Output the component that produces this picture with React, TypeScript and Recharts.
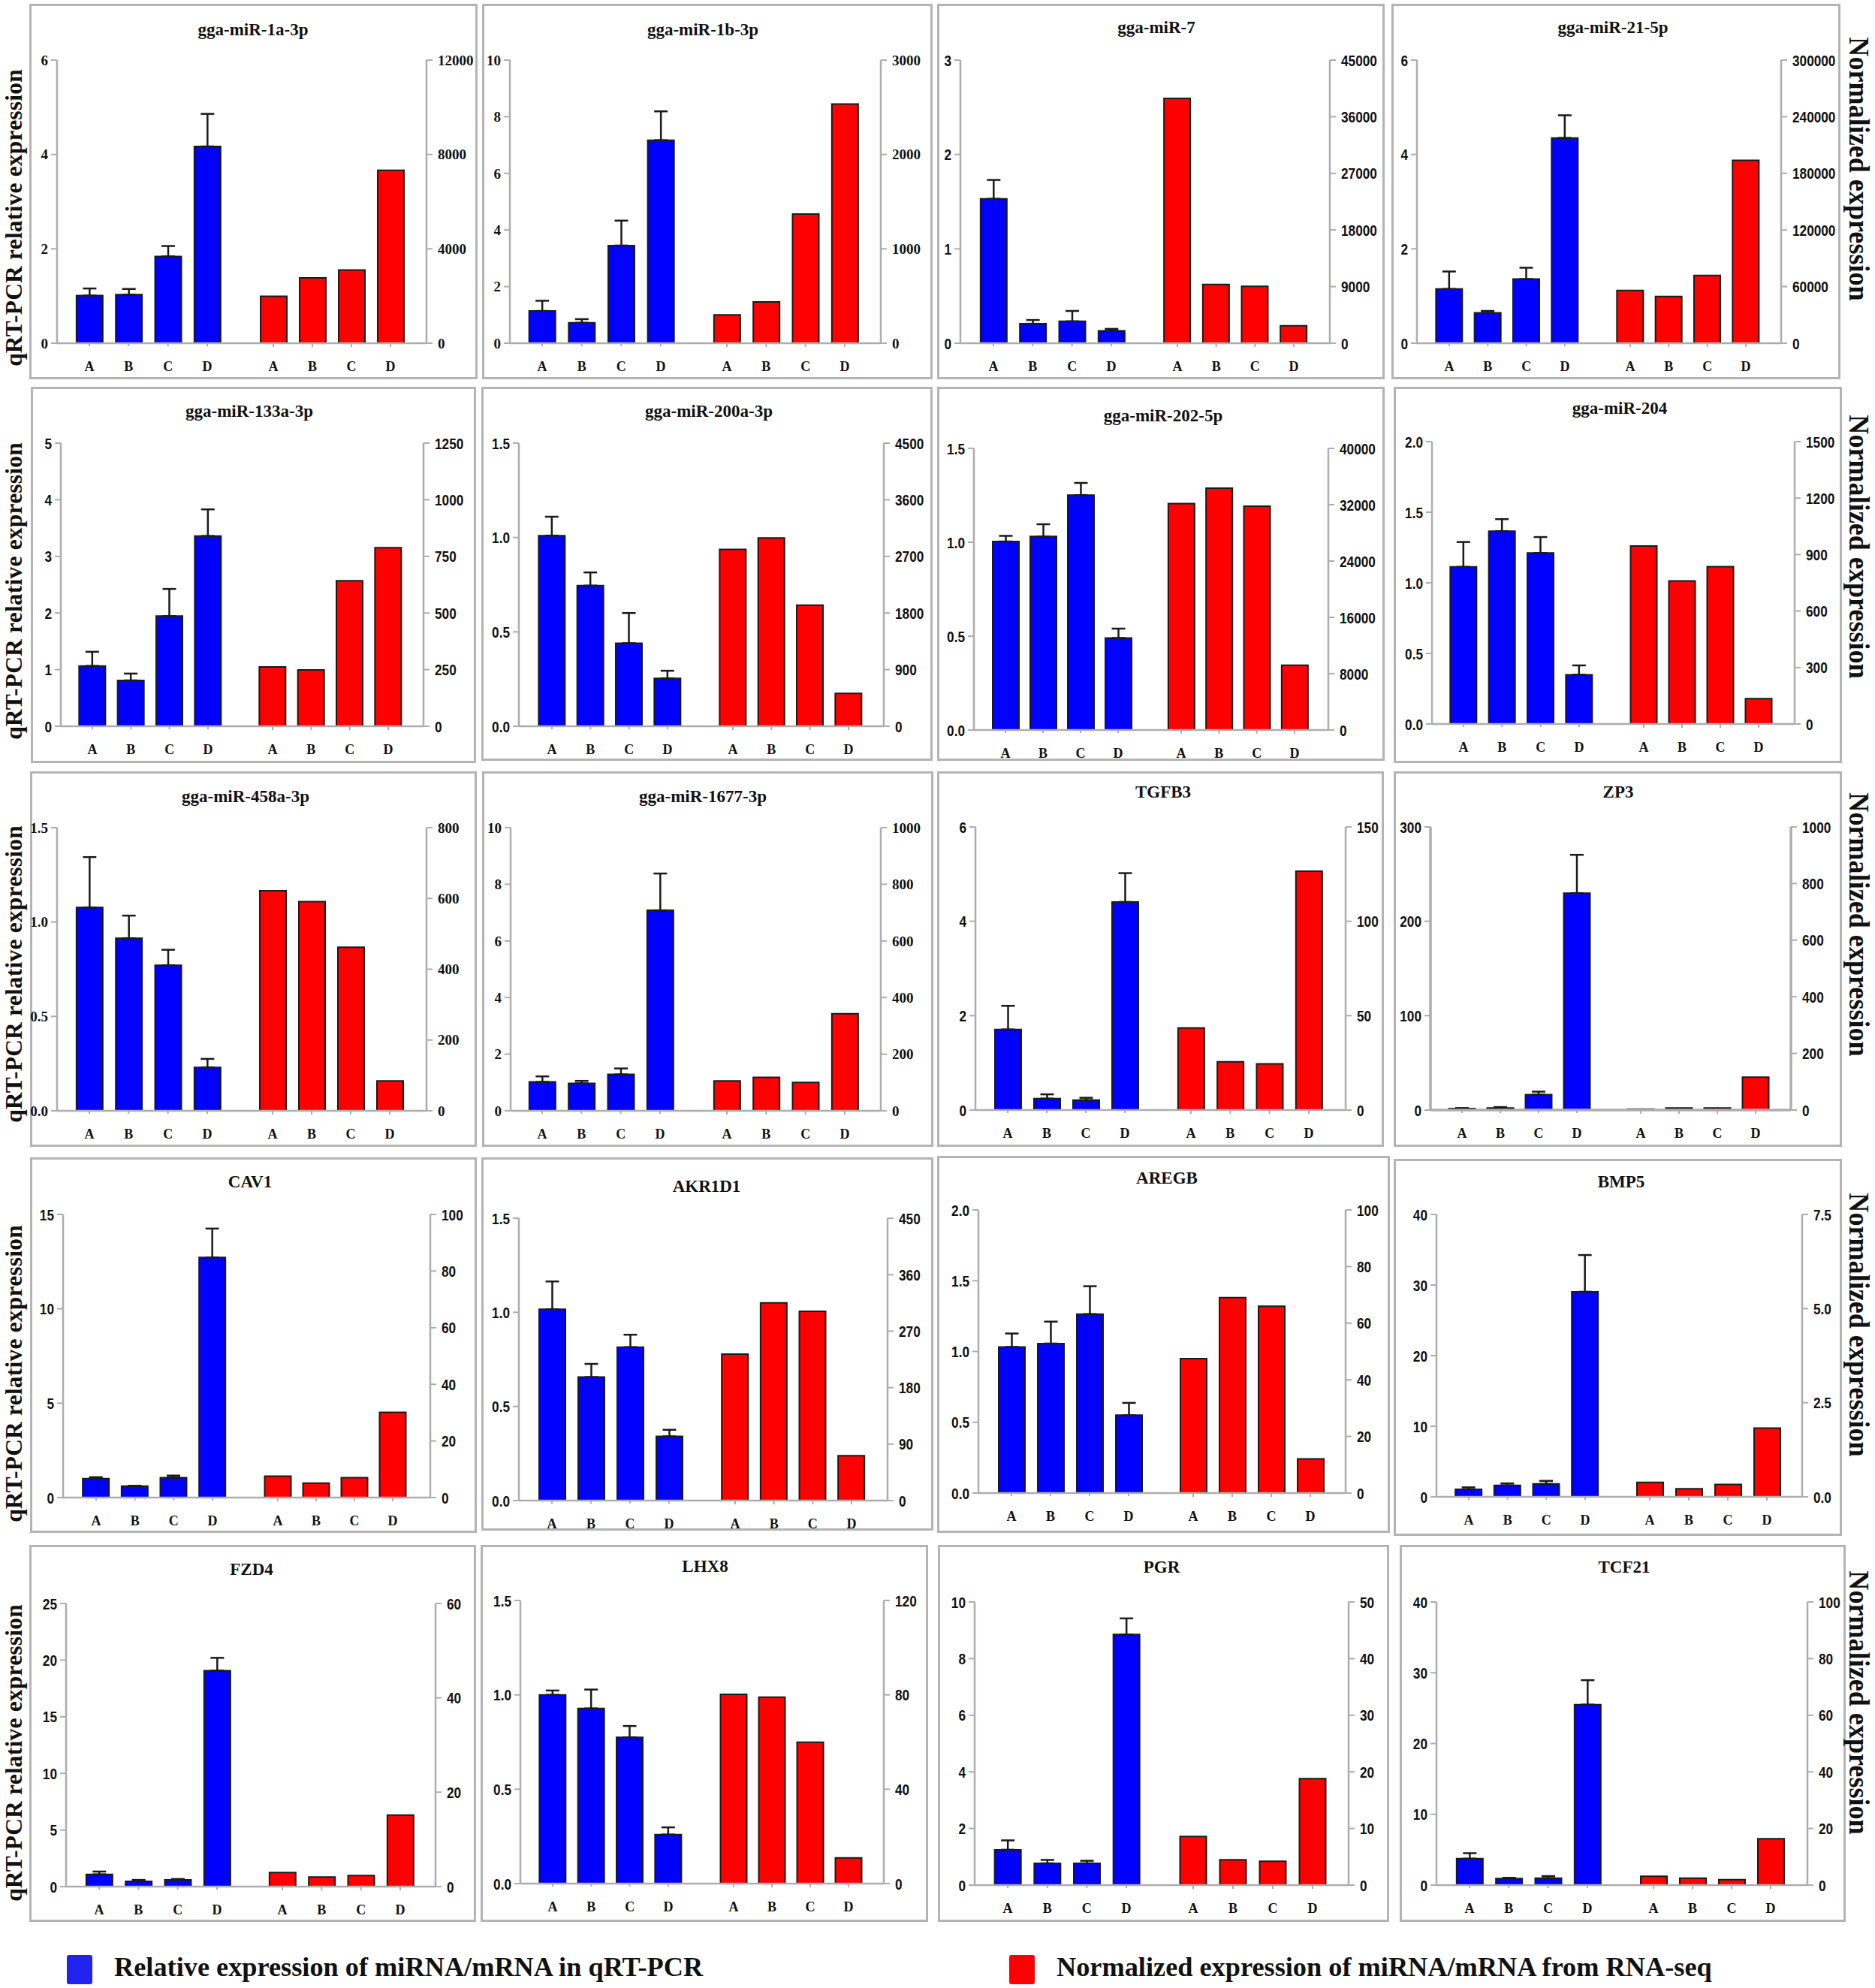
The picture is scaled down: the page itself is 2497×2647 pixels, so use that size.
import React from 'react';
import { BarChart, Bar, XAxis, YAxis, ErrorBar } from 'recharts';

const SERIF = '"Liberation Serif", serif';
const SANS = '"Liberation Sans", sans-serif';
const AXIS_GREY = '#adadad';

const groups = ['A', 'B', 'C', 'D'];

const titles = [
  'gga-miR-1a-3p', 'gga-miR-1b-3p', 'gga-miR-7', 'gga-miR-21-5p',
  'gga-miR-133a-3p', 'gga-miR-200a-3p', 'gga-miR-202-5p', 'gga-miR-204',
  'gga-miR-458a-3p', 'gga-miR-1677-3p', 'TGFB3', 'ZP3',
  'CAV1', 'AKR1D1', 'AREGB', 'BMP5',
  'FZD4', 'LHX8', 'PGR', 'TCF21',
];

// these four panels have serif tick numbers, the others a narrow sans
const serifTickPanels = ['gga-miR-1a-3p', 'gga-miR-1b-3p', 'gga-miR-458a-3p', 'gga-miR-1677-3p'];

const leftTicks = [
  [0, 2, 4, 6], [0, 2, 4, 6, 8, 10], [0, 1, 2, 3], [0, 2, 4, 6],
  [0, 1, 2, 3, 4, 5], [0, 0.5, 1, 1.5], [0, 0.5, 1, 1.5], [0, 0.5, 1, 1.5, 2],
  [0, 0.5, 1, 1.5], [0, 2, 4, 6, 8, 10], [0, 2, 4, 6], [0, 100, 200, 300],
  [0, 5, 10, 15], [0, 0.5, 1, 1.5], [0, 0.5, 1, 1.5, 2], [0, 10, 20, 30, 40],
  [0, 5, 10, 15, 20, 25], [0, 0.5, 1, 1.5], [0, 2, 4, 6, 8, 10], [0, 10, 20, 30, 40],
];

const rightTicks = [
  [0, 4000, 8000, 12000], [0, 1000, 2000, 3000], [0, 9000, 18000, 27000, 36000, 45000], [0, 60000, 120000, 180000, 240000, 300000],
  [0, 250, 500, 750, 1000, 1250], [0, 900, 1800, 2700, 3600, 4500], [0, 8000, 16000, 24000, 32000, 40000], [0, 300, 600, 900, 1200, 1500],
  [0, 200, 400, 600, 800], [0, 200, 400, 600, 800, 1000], [0, 50, 100, 150], [0, 200, 400, 600, 800, 1000],
  [0, 20, 40, 60, 80, 100], [0, 90, 180, 270, 360, 450], [0, 20, 40, 60, 80, 100], [0, 2.5, 5, 7.5],
  [0, 20, 40, 60], [0, 40, 80, 120], [0, 10, 20, 30, 40, 50], [0, 20, 40, 60, 80, 100],
];

const qpcrValues = [
  [1.01, 1.03, 1.84, 4.17], [1.14, 0.72, 3.45, 7.17], [1.53, 0.206, 0.232, 0.132], [1.15, 0.644, 1.36, 4.35],
  [1.065, 0.81, 1.945, 3.36], [1.01, 0.745, 0.44, 0.254], [1.004, 1.031, 1.251, 0.49], [1.113, 1.366, 1.211, 0.349],
  [1.077, 0.914, 0.771, 0.23], [1.02, 0.97, 1.285, 7.08], [1.708, 0.243, 0.21, 4.41], [1.6, 2.1, 16.3, 229.8],
  [1.0, 0.607, 1.056, 12.72], [1.016, 0.656, 0.815, 0.341], [1.032, 1.056, 1.264, 0.55], [1.06, 1.62, 1.83, 29.05],
  [1.08, 0.46, 0.59, 19.07], [1.0, 0.928, 0.775, 0.26], [1.25, 0.77, 0.77, 8.85], [3.74, 0.94, 0.98, 25.5],
];

const qpcrErrors = [
  [0.15, 0.12, 0.22, 0.69], [0.36, 0.13, 0.88, 1.02], [0.2, 0.04, 0.11, 0.02], [0.37, 0.04, 0.24, 0.48],
  [0.25, 0.12, 0.48, 0.47], [0.1, 0.07, 0.16, 0.04], [0.03, 0.065, 0.065, 0.05], [0.176, 0.085, 0.113, 0.066],
  [0.267, 0.12, 0.082, 0.045], [0.195, 0.086, 0.21, 1.3], [0.5, 0.09, 0.05, 0.61], [0.5, 1, 3.2, 40.6],
  [0.08, 0.02, 0.11, 1.53], [0.148, 0.07, 0.066, 0.035], [0.095, 0.155, 0.197, 0.087], [0.28, 0.28, 0.43, 5.2],
  [0.25, 0.13, 0.08, 1.13], [0.023, 0.1, 0.06, 0.038], [0.33, 0.12, 0.09, 0.57], [0.77, 0.09, 0.29, 3.45],
];

const rnaValues = [
  [1986, 2768, 3106, 7331], [301, 438, 1368, 2535], [38900, 9350, 9030, 2770], [56000, 49600, 71800, 193800],
  [262, 249, 642, 788], [2812, 2994, 1925, 523], [32150, 34350, 31800, 9190], [945, 760, 836, 135],
  [622, 591, 462, 84.5], [105.6, 118, 100, 343], [43.5, 25.6, 24.5, 126.5], [3.5, 7, 7, 116],
  [7.57, 5.1, 7.04, 30.1], [233.4, 315, 301.6, 71.4], [47.5, 69, 66, 12.1], [0.384, 0.212, 0.331, 1.826],
  [3.0, 2.03, 2.34, 15.15], [80.2, 79, 59.9, 10.9], [8.6, 4.46, 4.2, 18.8], [3.1, 2.46, 1.95, 16.4],
];

// panel geometry, in page pixels: frame box [x0, y0, x1, y1]
const frames = [
  [39, 5, 636, 505], [642, 5, 1242, 505], [1248, 5, 1844, 505], [1853, 5, 2451, 505],
  [41, 515, 634, 1016], [641, 515, 1242, 1013], [1248, 515, 1844, 1013], [1856, 515, 2453, 1016],
  [40, 1027, 635, 1527], [642, 1027, 1243, 1527], [1248, 1027, 1843, 1527], [1856, 1027, 2453, 1527],
  [40, 1541, 635, 2041], [641, 1541, 1243, 2038], [1248, 1539, 1851, 2041], [1856, 1543, 2453, 2045],
  [39, 2057, 634, 2559], [640, 2057, 1236, 2559], [1249, 2057, 1850, 2559], [1864, 2057, 2458, 2559],
];

// plot box [axis left, axis right, top, baseline]
const plots = [
  [76, 568, 80, 457], [679, 1173, 80, 457], [1279, 1771, 80, 457], [1887, 2372, 80, 457],
  [81, 564, 590, 967], [691, 1177, 590, 967], [1297, 1769, 597, 972], [1907, 2390, 588, 964],
  [76, 568, 1102, 1479], [680, 1173, 1102, 1479], [1299, 1792, 1101, 1478], [1905, 2385, 1101, 1478],
  [84, 573, 1617, 1994], [691, 1182, 1622, 1998], [1303, 1792, 1611, 1988], [1913, 2400, 1617, 1993],
  [88, 580, 2135, 2512], [693, 1177, 2131, 2508], [1298, 1796, 2133, 2510], [1913, 2407, 2133, 2510],
];

// centres of the first and last bar of each group
const blueCentres = [
  [119, 276], [722, 880], [1323, 1480], [1930, 2084],
  [123, 277], [735, 889], [1339, 1489], [1949, 2103],
  [119, 276], [722, 879], [1342, 1498], [1947, 2100],
  [128, 283], [735, 891], [1347, 1503], [1956, 2111],
  [132, 289], [736, 890], [1342, 1500], [1957, 2114],
];
const redCentres = [
  [364, 520], [968, 1125], [1568, 1723], [2171, 2325],
  [363, 517], [976, 1130], [1573, 1724], [2189, 2342],
  [363, 519], [968, 1125], [1586, 1743], [2185, 2338],
  [370, 523], [979, 1134], [1589, 1745], [2197, 2353],
  [376, 533], [977, 1130], [1589, 1748], [2202, 2358],
];

const titleSpots = [
  [337, 40], [936, 40], [1540, 37], [2148, 37],
  [332, 548], [944, 548], [1549, 554], [2157, 544],
  [327, 1061], [936, 1061], [1549, 1055], [2155, 1055],
  [333, 1574], [941, 1580], [1554, 1569], [2159, 1574],
  [335, 2090], [939, 2086], [1547, 2087], [2163, 2087],
];

const leftLabelRows = [290, 787, 1297, 1829, 2334];
const rightLabelRows = [225, 728, 1231, 1764, 2267];

function formatTick(ticks: number[]) {
  const hasFraction = ticks.some((t) => t % 1 !== 0);
  return (v: number) => (hasFraction ? v.toFixed(1) : String(v));
}

// bold sans squeezed sideways, no condensed face is installed
function narrowTick(format: (v: number) => string, anchor: 'start' | 'end') {
  return ({ x, y, payload }: any) => (
    <text
      transform={`translate(${x},${y}) scale(0.82,1)`}
      textAnchor={anchor}
      dy="0.36em"
      style={{ fontSize: 21, fontFamily: SANS, fontWeight: 'bold', fill: '#111' }}
    >
      {format(payload.value)}
    </text>
  );
}

function Panel({ i }: { i: number }) {
  const [x0, y0, x1, y1] = frames[i];
  const [left, right, top, bottom] = plots[i];
  const isSerif = serifTickPanels.includes(titles[i]);
  const serifTick = { fontSize: 19, fontFamily: SERIF, fontWeight: 'bold', fill: '#111' };
  const xTickStyle = { fontSize: 18, fontFamily: SERIF, fontWeight: 'bold', fill: '#111' };
  const axisWidth = titles[i] === 'ZP3' ? 3.5 : 2.5;
  const axisLine = { stroke: AXIS_GREY, strokeWidth: axisWidth };
  const tickLine = { stroke: AXIS_GREY, strokeWidth: 2 };

  const rows = groups.map((g, k) => ({
    group: g,
    qpcr: qpcrValues[i][k],
    err: [0, qpcrErrors[i][k]],
    rna: rnaValues[i][k],
  }));

  const padding = (centres: number[]) => {
    const pitch = (centres[1] - centres[0]) / 3;
    return { left: centres[0] - pitch / 2 - left, right: right - centres[1] - pitch / 2 };
  };

  const lticks = leftTicks[i];
  const rticks = rightTicks[i];
  const lformat = formatTick(lticks);
  const rformat = formatTick(rticks);

  return (
    <div style={{ position: 'absolute', left: x0, top: y0, width: x1 - x0, height: y1 - y0 }}>
      <div style={{ position: 'absolute', inset: 0, boxSizing: 'border-box', border: '3px solid #b4b4b4' }} />
      <div
        style={{
          position: 'absolute',
          left: titleSpots[i][0] - x0,
          top: titleSpots[i][1] - y0,
          transform: 'translate(-50%, -50%)',
          fontFamily: SERIF,
          fontWeight: 'bold',
          fontSize: 23,
          whiteSpace: 'nowrap',
          color: '#111',
        }}
      >
        {titles[i]}
      </div>
      <div style={{ position: 'absolute', left: 0, top: 0 }}>
        {/* the axes need 1px of size to draw at all, so the margins give that back */}
        <BarChart
          width={x1 - x0}
          height={y1 - y0}
          data={rows}
          margin={{ left: left - x0 - 1, right: x1 - right - 1, top: top - y0, bottom: y1 - bottom - 2 }}
        >
          <XAxis
            xAxisId="blue"
            dataKey="group"
            height={1}
            padding={padding(blueCentres[i])}
            interval={0}
            tick={xTickStyle}
            tickSize={4}
            tickMargin={20}
            axisLine={axisLine}
            tickLine={tickLine}
          />
          <XAxis
            xAxisId="red"
            dataKey="group"
            height={1}
            padding={padding(redCentres[i])}
            interval={0}
            tick={xTickStyle}
            tickSize={4}
            tickMargin={19}
            axisLine={false}
            tickLine={tickLine}
          />
          <YAxis
            yAxisId="left"
            orientation="left"
            width={1}
            domain={[0, lticks[lticks.length - 1]]}
            ticks={lticks}
            interval={0}
            tickFormatter={lformat}
            tick={isSerif ? serifTick : narrowTick(lformat, 'end')}
            tickSize={8}
            tickMargin={4}
            axisLine={axisLine}
            tickLine={tickLine}
          />
          <YAxis
            yAxisId="right"
            orientation="right"
            width={1}
            domain={[0, rticks[rticks.length - 1]]}
            ticks={rticks}
            interval={0}
            tickFormatter={rformat}
            tick={isSerif ? serifTick : narrowTick(rformat, 'start')}
            tickSize={8}
            tickMargin={7}
            axisLine={axisLine}
            tickLine={tickLine}
          />
          <Bar
            xAxisId="blue"
            yAxisId="left"
            dataKey="qpcr"
            fill="#0000ff"
            stroke="#1a1a1a"
            strokeWidth={2}
            barSize={35}
            isAnimationActive={false}
          >
            <ErrorBar dataKey="err" width={9} stroke="#1a1a1a" strokeWidth={2.5} isAnimationActive={false} />
          </Bar>
          <Bar
            xAxisId="red"
            yAxisId="right"
            dataKey="rna"
            fill="#ff0000"
            stroke="#1a1a1a"
            strokeWidth={2}
            barSize={35}
            isAnimationActive={false}
          />
        </BarChart>
      </div>
    </div>
  );
}

function SideLabel({ text, x, y, angle, size, stretch, spacing }: { text: string; x: number; y: number; angle: number; size: number; stretch: number; spacing: number }) {
  return (
    <div
      style={{
        position: 'absolute',
        left: x,
        top: y,
        transform: `translate(-50%, -50%) rotate(${angle}deg) scaleX(${stretch})`,
        fontFamily: SERIF,
        fontWeight: 'bold',
        fontSize: size,
        lineHeight: 0.9,
        letterSpacing: spacing,
        whiteSpace: 'nowrap',
        color: '#111',
      }}
    >
      {text}
    </div>
  );
}

function LegendItem({ x, textX, colour, text }: { x: number; textX: number; colour: string; text: string }) {
  return (
    <>
      <div style={{ position: 'absolute', left: x, top: 2603, width: 34, height: 39, background: colour, borderRadius: 3 }} />
      <div
        style={{
          position: 'absolute',
          left: textX,
          top: 2619,
          transform: 'translateY(-50%)',
          fontFamily: SERIF,
          fontWeight: 'bold',
          fontSize: 36.3,
          whiteSpace: 'nowrap',
          color: '#111',
        }}
      >
        {text}
      </div>
    </>
  );
}

export default function App() {
  return (
    <div style={{ position: 'absolute', left: 0, top: 0, width: 2497, height: 2647, background: '#fff', overflow: 'hidden' }}>
      {titles.map((t, i) => (
        <Panel key={t} i={i} />
      ))}
      {leftLabelRows.map((y) => (
        <SideLabel key={y} text="qRT-PCR relative expression" x={19} y={y} angle={-90} size={31.5} stretch={1} spacing={0.2} />
      ))}
      {rightLabelRows.map((y) => (
        <SideLabel key={y} text="Normalized expression" x={2476} y={y} angle={90} size={38} stretch={0.95} spacing={0} />
      ))}
      <LegendItem x={89} textX={152} colour="#2222ee" text="Relative expression of miRNA/mRNA in qRT-PCR" />
      <LegendItem x={1344} textX={1407} colour="#ff0000" text="Normalized expression of miRNA/mRNA from RNA-seq" />
    </div>
  );
}
